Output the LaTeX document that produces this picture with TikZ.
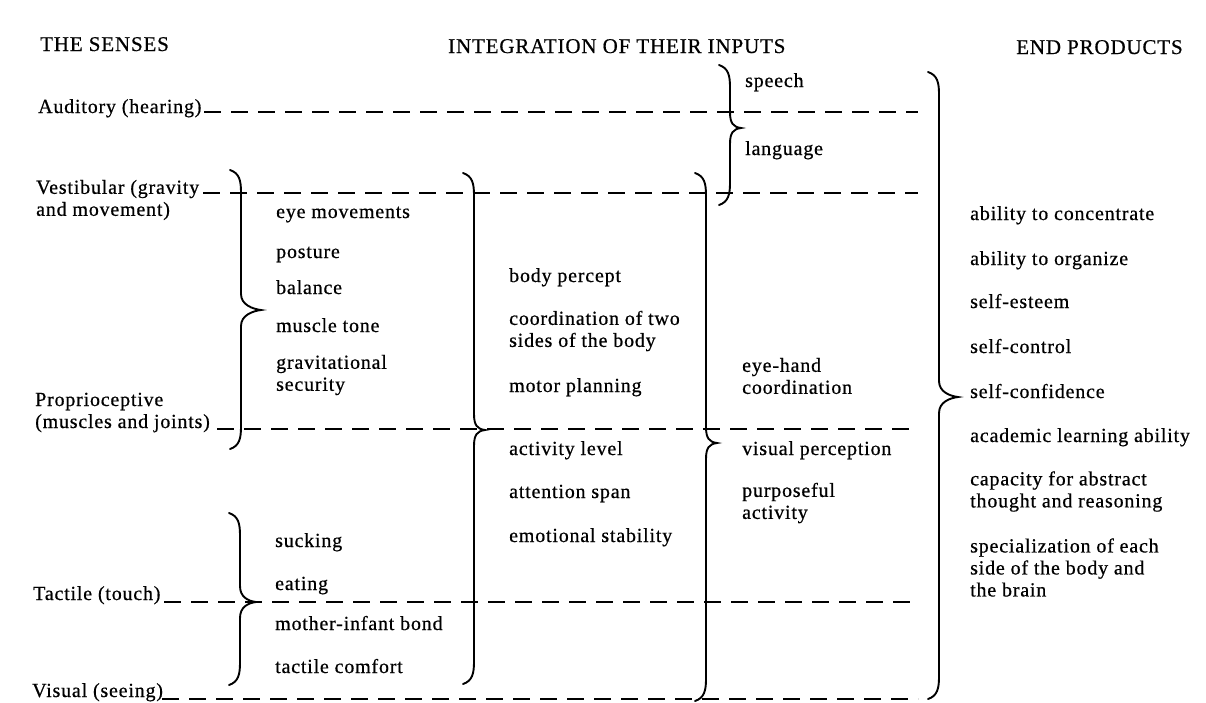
\documentclass[tikz,border=0pt]{standalone}
\usepackage{fontspec}
\setmainfont{Liberation Serif}[LetterSpace=4, FakeBold=0.6]
\begin{document}
% a curly brace "}" : spine x, top y, tip y, bottom y, tip x
\newcommand\curlybrace[5]{%
  \draw[bracestroke] (#1-11,#2) .. controls (#1-2,#2+3) and (#1,#2+10) .. (#1,#2+22)
    -- (#1,#3-16) .. controls (#1,#3-5) and (#5-8,#3-1) .. (#5,#3)
    .. controls (#5-8,#3+1) and (#1,#3+5) .. (#1,#3+16)
    -- (#1,#4-22) .. controls (#1,#4-10) and (#1-2,#4-3) .. (#1-11,#4);}
\begin{tikzpicture}[x=1pt,y=-1pt,
  txt/.style={inner sep=0pt, font=\fontsize{20}{22}\selectfont, anchor=base west},
  txtm/.style={txt, anchor=west, align=left},
  head/.style={txt, font=\fontsize{21}{24}\selectfont},
  rule/.style={line width=1.8pt, dash pattern=on 17pt off 10pt},
  bracestroke/.style={line width=1.9pt, line cap=round}]
\useasboundingbox (0,0) rectangle (1206,702);

% column headings
\node[head] (hSenses) at (40,51) {THE SENSES};
\node[head] (hInteg) at (448,53) {INTEGRATION OF THEIR INPUTS};
\node[head] (hEnd) at (1016,54) {END PRODUCTS};

% the senses
\node[txt] (sAud) at (38,113) {Auditory (hearing)};
\node[txtm] (sVest) at (36,200) {Vestibular (gravity\\and movement)};
\node[txtm] (sProp) at (35,412.5) {Proprioceptive\\(muscles and joints)};
\node[txt] (sTact) at (33,600) {Tactile (touch)};
\node[txt] (sVis) at (32,697) {Visual (seeing)};

% rules running from each sense
\coordinate (aL) at (204,112);  \coordinate (aR) at (918,112);
\coordinate (vL) at (203,193);  \coordinate (vR) at (918,193);
\coordinate (pL) at (217,429);  \coordinate (pR) at (918,429);
\coordinate (tL) at (164,602);  \coordinate (tR) at (918,602);
\coordinate (sL) at (162,699);  \coordinate (sR) at (918,699);
\draw[rule] (aL) -- (aR);
\draw[rule] (vL) -- (vR);
\draw[rule] (pL) -- (pR);
\draw[rule] (tL) -- (tR);
\draw[rule] (sL) -- (sR);

% first level of integration
\node[txt] (i1) at (276,218) {eye movements};
\node[txt] (i2) at (276,258) {posture};
\node[txt] (i3) at (276,294) {balance};
\node[txt] (i4) at (276,332) {muscle tone};
\node[txtm] (i5) at (276,375) {gravitational\\security};
\node[txt] (i6) at (275,547) {sucking};
\node[txt] (i7) at (275,590) {eating};
\node[txt] (i8) at (275,630) {mother-infant bond};
\node[txt] (i9) at (275,673) {tactile comfort};

% second level
\node[txt] (j1) at (509,282) {body percept};
\node[txtm] (j2) at (509,331) {coordination of two\\sides of the body};
\node[txt] (j3) at (509,392) {motor planning};
\node[txt] (j4) at (509,455) {activity level};
\node[txt] (j5) at (509,498) {attention span};
\node[txt] (j6) at (509,542) {emotional stability};

% third level
\node[txt] (k1) at (745,87) {speech};
\node[txt] (k2) at (745,155) {language};
\node[txtm] (k3) at (742,376) {eye-hand\\coordination};
\node[txt] (k4) at (742,455) {visual perception};
\node[txtm] (k5) at (742,503) {purposeful\\activity};

% end products
\node[txt] (e1) at (970,220) {ability to concentrate};
\node[txt] (e2) at (970,265) {ability to organize};
\node[txt] (e3) at (970,308) {self-esteem};
\node[txt] (e4) at (970,353) {self-control};
\node[txt] (e5) at (970,398) {self-confidence};
\node[txt] (e6) at (970,442) {academic learning ability};
\node[txtm] (e7) at (970,491.5) {capacity for abstract\\thought and reasoning};
\node[txtm] (e8) at (970,567.5) {specialization of each\\side of the body and\\the brain};

% braces gathering the inputs
\curlybrace{241}{170}{310}{449}{261}
\curlybrace{240}{513}{602}{685}{256}
\curlybrace{474}{173}{430}{684}{485}
\curlybrace{706}{173}{443}{701}{717}
\curlybrace{730}{65}{128}{205}{741}
\curlybrace{939}{72}{397}{699}{958}
\end{tikzpicture}
\end{document}
